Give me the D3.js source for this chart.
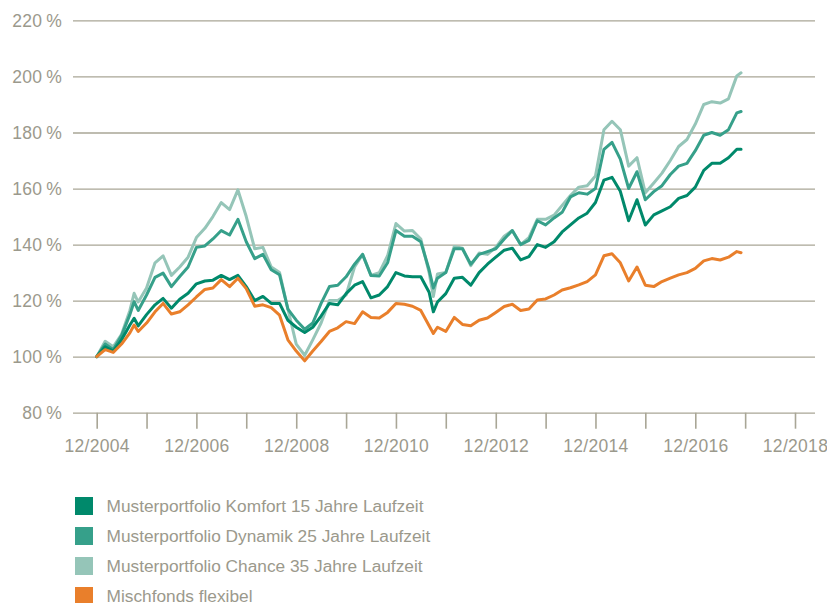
<!DOCTYPE html>
<html>
<head>
<meta charset="utf-8">
<script src="https://cdn.jsdelivr.net/npm/d3@7"></script>
<style>
  body { margin: 0; background: #fff; }
  svg { display: block; font-family: "Liberation Sans", Arial, Helvetica, sans-serif; }
</style>
</head>
<body>
<div class="chart"></div>
<script>
// months after 12/2004
const months = [0, 2, 4, 6, 8, 9, 10, 12, 14, 16, 18, 20, 22, 24, 26, 28, 30, 32, 34, 36, 38, 40,
  42, 44, 46, 48, 50, 52, 54, 56, 58, 60, 62, 64, 66, 68, 70, 72, 74, 76, 78, 80, 81, 82, 84, 86,
  88, 90, 92, 94, 96, 98, 100, 102, 104, 106, 108, 110, 112, 114, 116, 118, 120, 122, 124, 126,
  128, 130, 132, 134, 136, 138, 140, 142, 144, 146, 148, 150, 152, 154, 155];

const komfort = [100, 103.5, 102, 106, 111.3, 113.7, 111, 115, 118.5, 120.8, 117.3, 120.5, 122.6,
  126, 127, 127.3, 129, 127.5, 129, 125, 120, 121.5, 119, 119, 113, 110.5, 108.6, 110.5, 114.5,
  119, 118.5, 122.5, 125.5, 126.8, 121, 122, 125, 130, 128.8, 128.5, 128.5, 123, 116, 119.5,
  122.5, 128, 128.3, 125.5, 130, 133, 135.5, 138, 138.7, 134.5, 135.7, 140, 139, 141, 144.5,
  147, 149.5, 151.2, 155, 163, 164, 159, 148.5, 156, 147, 150.6, 152, 153.5, 156.5, 157.5,
  160.5, 166.5, 169, 169, 171, 174, 174];

const dynamik = [100, 104.5, 102.5, 107.5, 115, 119.6, 116.5, 122, 128.3, 129.8, 125, 128.6, 132,
  139, 139.5, 142, 145, 143.4, 149, 141, 135, 136.5, 131, 129.2, 117, 113, 109.8, 112, 119, 125,
  125.5, 128.5, 133, 136.5, 129, 128.8, 133.5, 145, 143, 143, 141, 131, 124.5, 128, 130, 138.5,
  138.5, 133, 136.5, 137.5, 138.5, 142, 145, 140, 141.5, 148.5, 147, 149.5, 151.5, 157, 158.5,
  158, 160, 174, 176.5, 170.5, 160, 166, 156, 158.9, 161, 165, 168, 169, 173.5, 179, 180, 179,
  181, 187, 187.5];

const chance = [100, 105.5, 103.5, 108, 116.5, 122.6, 119.5, 124.5, 133.5, 136, 129, 132, 135.5,
  142.5, 145.8, 150, 155, 152.5, 159.5, 150, 138.5, 139, 132, 130, 117, 104.5, 100.5, 106, 112,
  120, 120, 122, 132, 136.5, 129, 130, 136, 147.5, 144.8, 145, 142, 130, 121.5, 129.5, 130,
  139.3, 138.7, 132.5, 137, 136.5, 139, 143, 145, 140, 142.5, 149, 149, 150.5, 154, 157.5,
  160.5, 161, 164.5, 181, 184, 181, 168, 171, 158.5, 162, 165.5, 170, 175, 177.5, 183, 190,
  191, 190.5, 192, 200.2, 201.3];

const mischfonds = [100, 102.5, 101.5, 104.5, 108.5, 111.3, 109, 112, 116, 119, 115.2, 116, 118.5,
  121.3, 124, 124.5, 127.5, 125, 128, 124.3, 118, 118.5, 117.5, 114.8, 106, 102, 98.5, 102,
  105.4, 109, 110.3, 112.5, 111.8, 116, 114, 113.8, 115.8, 119, 118.7, 118, 116.5, 111, 108.3,
  110.5, 109, 114, 111.5, 111, 113, 113.8, 115.8, 117.9, 118.7, 116.5, 117, 120.2, 120.6, 122,
  123.8, 124.6, 125.6, 126.8, 129.2, 136, 136.7, 133.5, 127, 132, 125.5, 125, 126.8, 128,
  129.2, 130, 131.5, 134.2, 135, 134.5, 135.5, 137.5, 137.1];

const yTicks = [80, 100, 120, 140, 160, 180, 200, 220];
const xTickYears = [2004, 2005, 2006, 2007, 2008, 2009, 2010, 2011, 2012, 2013, 2014, 2015, 2016, 2017, 2018];
const xLabelYears = [2004, 2006, 2008, 2010, 2012, 2014, 2016, 2018];

const seriesNames = [
  'Musterportfolio Komfort 15 Jahre Laufzeit',
  'Musterportfolio Dynamik 25 Jahre Laufzeit',
  'Musterportfolio Chance 35 Jahre Laufzeit',
  'Mischfonds flexibel'
];
const seriesColors = ['#00896b', '#36a08a', '#95c5b8', '#e97f2b'];

const WIDTH = 827, HEIGHT = 603;
const gridColor = '#a9a696';
const textColor = '#9b998c';

const svg = d3.select('.chart')
  .append('svg')
  .attr('width', WIDTH)
  .attr('height', HEIGHT);

const start = new Date(2004, 11, 1);
const xRange = d3.scaleTime()
  .domain([start, new Date(2018, 11, 1)])
  .range([96.7, 795]);
const yRange = d3.scaleLinear()
  .domain([80, 220])
  .range([412.7, 20.4]);

// horizontal grid
const yAxis = d3.axisLeft(yRange)
  .tickValues(yTicks)
  .tickSize(-(815 - 73))
  .tickPadding(11)
  .tickFormat(d => d + '\u2009%');
const yAxisg = svg.append('g')
  .attr('transform', 'translate(73,0)')
  .call(yAxis);
yAxisg.select('.domain').remove();
yAxisg.selectAll('line')
  .attr('stroke', gridColor)
  .attr('stroke-width', 1.3);
yAxisg.selectAll('text')
  .attr('fill', textColor)
  .style('font-size', '17.5px')
  .style('letter-spacing', '0.3px')
  .attr('font-family', null);

// x ticks
const xAxis = d3.axisBottom(xRange)
  .tickValues(xTickYears.map(y => new Date(y, 11, 1)))
  .tickSize(16)
  .tickFormat(d => xLabelYears.indexOf(d.getFullYear()) >= 0 ? '12/' + d.getFullYear() : '');
const xAxisg = svg.append('g')
  .attr('transform', 'translate(0,' + yRange(80) + ')')
  .call(xAxis);
xAxisg.select('.domain').remove();
xAxisg.selectAll('line')
  .attr('stroke', gridColor)
  .attr('stroke-width', 1.6);
xAxisg.selectAll('text')
  .attr('fill', textColor)
  .attr('y', 27)
  .style('font-size', '17.5px')
  .style('letter-spacing', '0.3px')
  .attr('font-family', null);

// lines
const lineFunction = d3.line()
  .x((d, i) => xRange(d3.timeMonth.offset(start, months[i])))
  .y(d => yRange(d))
  .curve(d3.curveLinear);

const drawOrder = [2, 1, 0, 3];
const allSeries = [komfort, dynamik, chance, mischfonds];
drawOrder.forEach(k => {
  svg.append('path')
    .attr('d', lineFunction(allSeries[k]))
    .attr('fill', 'none')
    .attr('stroke', seriesColors[k])
    .attr('stroke-width', 3)
    .attr('stroke-linejoin', 'round')
    .attr('stroke-linecap', 'round');
});

// legend
const legend = svg.append('g')
  .attr('transform', 'translate(75,497)');
const items = legend.selectAll('.item')
  .data(seriesNames)
  .enter()
  .append('g')
  .attr('transform', (d, i) => 'translate(0,' + (i * 30) + ')');
items.append('rect')
  .attr('width', 18)
  .attr('height', 18)
  .attr('fill', (d, i) => seriesColors[i]);
items.append('text')
  .text(d => d)
  .attr('x', 31.5)
  .attr('y', 15)
  .style('font-size', '17.3px')
  .style('fill', textColor);
</script>
</body>
</html>
